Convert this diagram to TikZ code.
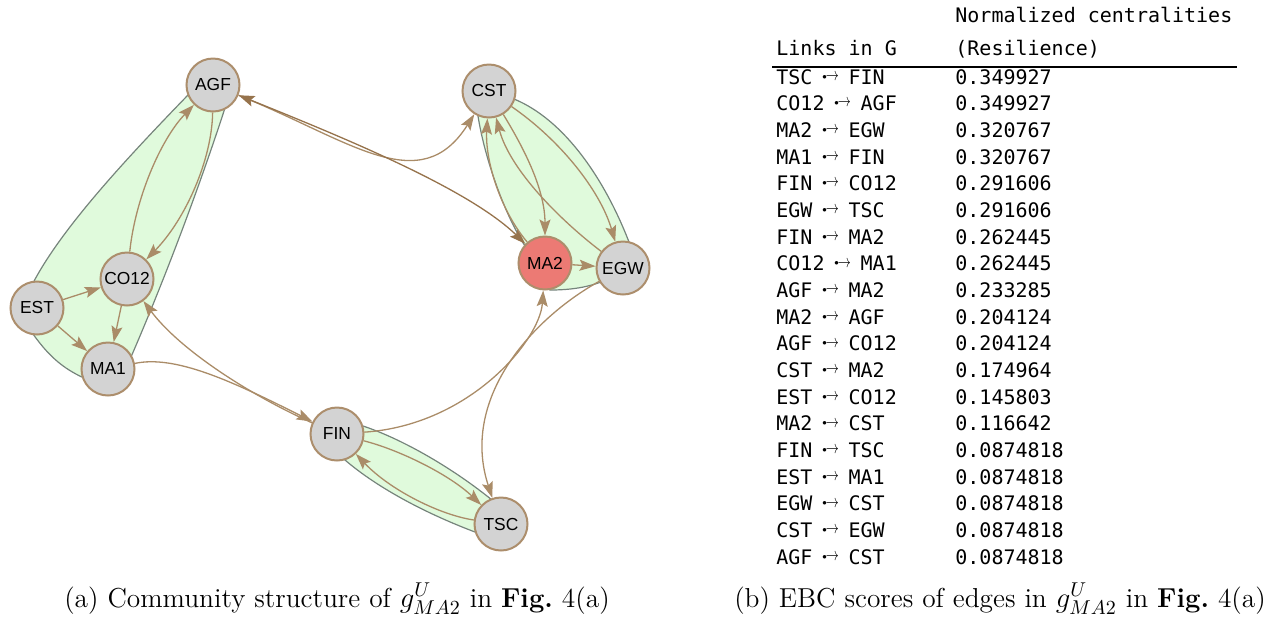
\documentclass[tikz,border=0pt]{standalone}
\usepackage{fontspec}
\setsansfont{Liberation Sans}
\setmonofont{DejaVu Sans Mono}
\usetikzlibrary{arrows.meta}
\definecolor{nodegray}{RGB}{211,211,211}
\definecolor{nodebrown}{RGB}{172,142,108}
\definecolor{edgebrown}{RGB}{170,140,104}
\definecolor{edgedark}{RGB}{150,115,76}
\definecolor{ma2red}{RGB}{236,122,116}
\definecolor{hullgreen}{RGB}{224,250,220}
\definecolor{hullgray}{RGB}{118,132,124}
\newcommand\dedge{\makebox[0.602em][c]{\raisebox{1pt}{$\vcenter{\hbox{\scalebox{0.45}{$\bullet$}}}\mkern-1mu\vcenter{\hbox{\scalebox{0.65}[0.9]{$\rightarrow$}}}$}}}
\begin{document}
\begin{tikzpicture}[x=0.5pt,y=-0.5pt,
  vtx/.style={circle,draw=nodebrown,line width=1pt,fill=nodegray,minimum size=26.5pt,inner sep=0pt,font=\sffamily\fontsize{8.7}{10}\selectfont},
  lnk/.style={draw=edgebrown,line width=0.65pt,-{Stealth[length=8pt,width=5.5pt,inset=1.5pt]}},
  hullshape/.style={fill=hullgreen,draw=hullgray,line width=0.6pt},
  rowtxt/.style={anchor=base west,inner sep=0pt,font=\ttfamily\fontsize{10}{12}\selectfont},
  captxt/.style={anchor=base,inner sep=0pt,font=\fontsize{13.7}{16}\selectfont}]
\useasboundingbox (0,0) rectangle (1276,618);

% community hulls
\path[hullshape] (188,95) .. controls (125,160) and (60,230) .. (32,285) -- (37,308) -- (33,334)
  .. controls (48,355) and (62,368) .. (84,378) -- (108,369) -- (131,357)
  .. controls (160,290) and (195,200) .. (225,108) -- (213,85) -- cycle;
\path[hullshape] (478,116) .. controls (485,160) and (505,215) .. (525,246) -- (545,263) -- (550,290)
  .. controls (568,290) and (585,288) .. (601,282) -- (623,268) -- (629,242)
  .. controls (605,180) and (565,120) .. (514,99) -- (489,91) -- cycle;
\path[hullshape] (363,426) .. controls (405,440) and (455,470) .. (492,500) -- (501,524) -- (475,532)
  .. controls (430,515) and (380,490) .. (345,460) -- (337,434) -- cycle;

% vertices
\node[vtx] (AGF) at (213,85) {AGF};
\node[vtx] (CST) at (489,91) {CST};
\node[vtx] (CO12) at (127,279) {CO12};
\node[vtx] (EST) at (37,308) {EST};
\node[vtx] (MA1) at (108,369) {MA1};
\node[vtx,fill=ma2red] (MA2) at (545,263) {MA2};
\node[vtx] (EGW) at (623,268) {EGW};
\node[vtx] (FIN) at (337,434) {FIN};
\node[vtx] (TSC) at (501,524) {TSC};

% edges
\draw[lnk] (AGF) .. controls (350,140) and (420,200) .. (CST);
\draw[lnk,draw=edgedark,{Stealth[length=8pt,width=5.5pt,inset=1.5pt]}-{Stealth[length=8pt,width=5.5pt,inset=1.5pt]}] (AGF) .. controls (350,140) and (470,190) .. (MA2);
\draw[lnk] (MA2) .. controls (500,210) and (485,160) .. (CST);
\draw[lnk] (CST) .. controls (525,150) and (545,190) .. (MA2);
\draw[lnk] (EGW) .. controls (560,220) and (510,170) .. (CST);
\draw[lnk] (CST) .. controls (560,140) and (600,190) .. (EGW);
\draw[lnk] (MA2) -- (EGW);
\draw[lnk] (EGW) .. controls (530,320) and (460,400) .. (TSC);
\draw[lnk] (FIN) .. controls (470,425) and (540,340) .. (MA2);
\draw[lnk] (FIN) .. controls (400,450) and (450,475) .. (TSC);
\draw[lnk] (TSC) .. controls (440,515) and (390,490) .. (FIN);
\draw[lnk] (MA1) .. controls (175,355) and (230,380) .. (FIN);
\draw[lnk] (FIN) .. controls (250,395) and (180,350) .. (CO12);
\draw[lnk] (CO12) .. controls (135,200) and (160,140) .. (AGF);
\draw[lnk] (AGF) .. controls (212,160) and (185,220) .. (CO12);
\draw[lnk] (EST) -- (CO12);
\draw[lnk] (EST) -- (MA1);
\draw[lnk] (CO12) -- (MA1);

% table
\node[rowtxt] (h1) at (955,22) {Normalized centralities};
\node[rowtxt] (h2) at (776,55) {Links in G};
\node[rowtxt] (h3) at (955,55) {(Resilience)};
\coordinate (rl) at (772,67);
\coordinate (rr) at (1237,67);
\draw[line width=0.8pt] (rl) -- (rr);
\foreach \a/\b/\v [count=\i from 0] in {TSC/FIN/0.349927, CO12/AGF/0.349927, MA2/EGW/0.320767,
  MA1/FIN/0.320767, FIN/CO12/0.291606, EGW/TSC/0.291606, FIN/MA2/0.262445, CO12/MA1/0.262445,
  AGF/MA2/0.233285, MA2/AGF/0.204124, AGF/CO12/0.204124, CST/MA2/0.174964, EST/CO12/0.145803,
  MA2/CST/0.116642, FIN/TSC/0.0874818, EST/MA1/0.0874818, EGW/CST/0.0874818, CST/EGW/0.0874818,
  AGF/CST/0.0874818}{
  \node[rowtxt] (l\i) at (776,{84+26.67*\i}) {\a\ \dedge\ \b};
  \node[rowtxt] (v\i) at (955,{84+26.67*\i}) {\v};
}

% captions
\node[captxt] (capa) at (337,607) {(a) Community structure of $g^{U}_{MA2}$ in \textbf{Fig.}~4(a)};
\node[captxt] (capb) at (1000,607) {(b) EBC scores of edges in $g^{U}_{MA2}$ in \textbf{Fig.}~4(a)};
\end{tikzpicture}
\end{document}
